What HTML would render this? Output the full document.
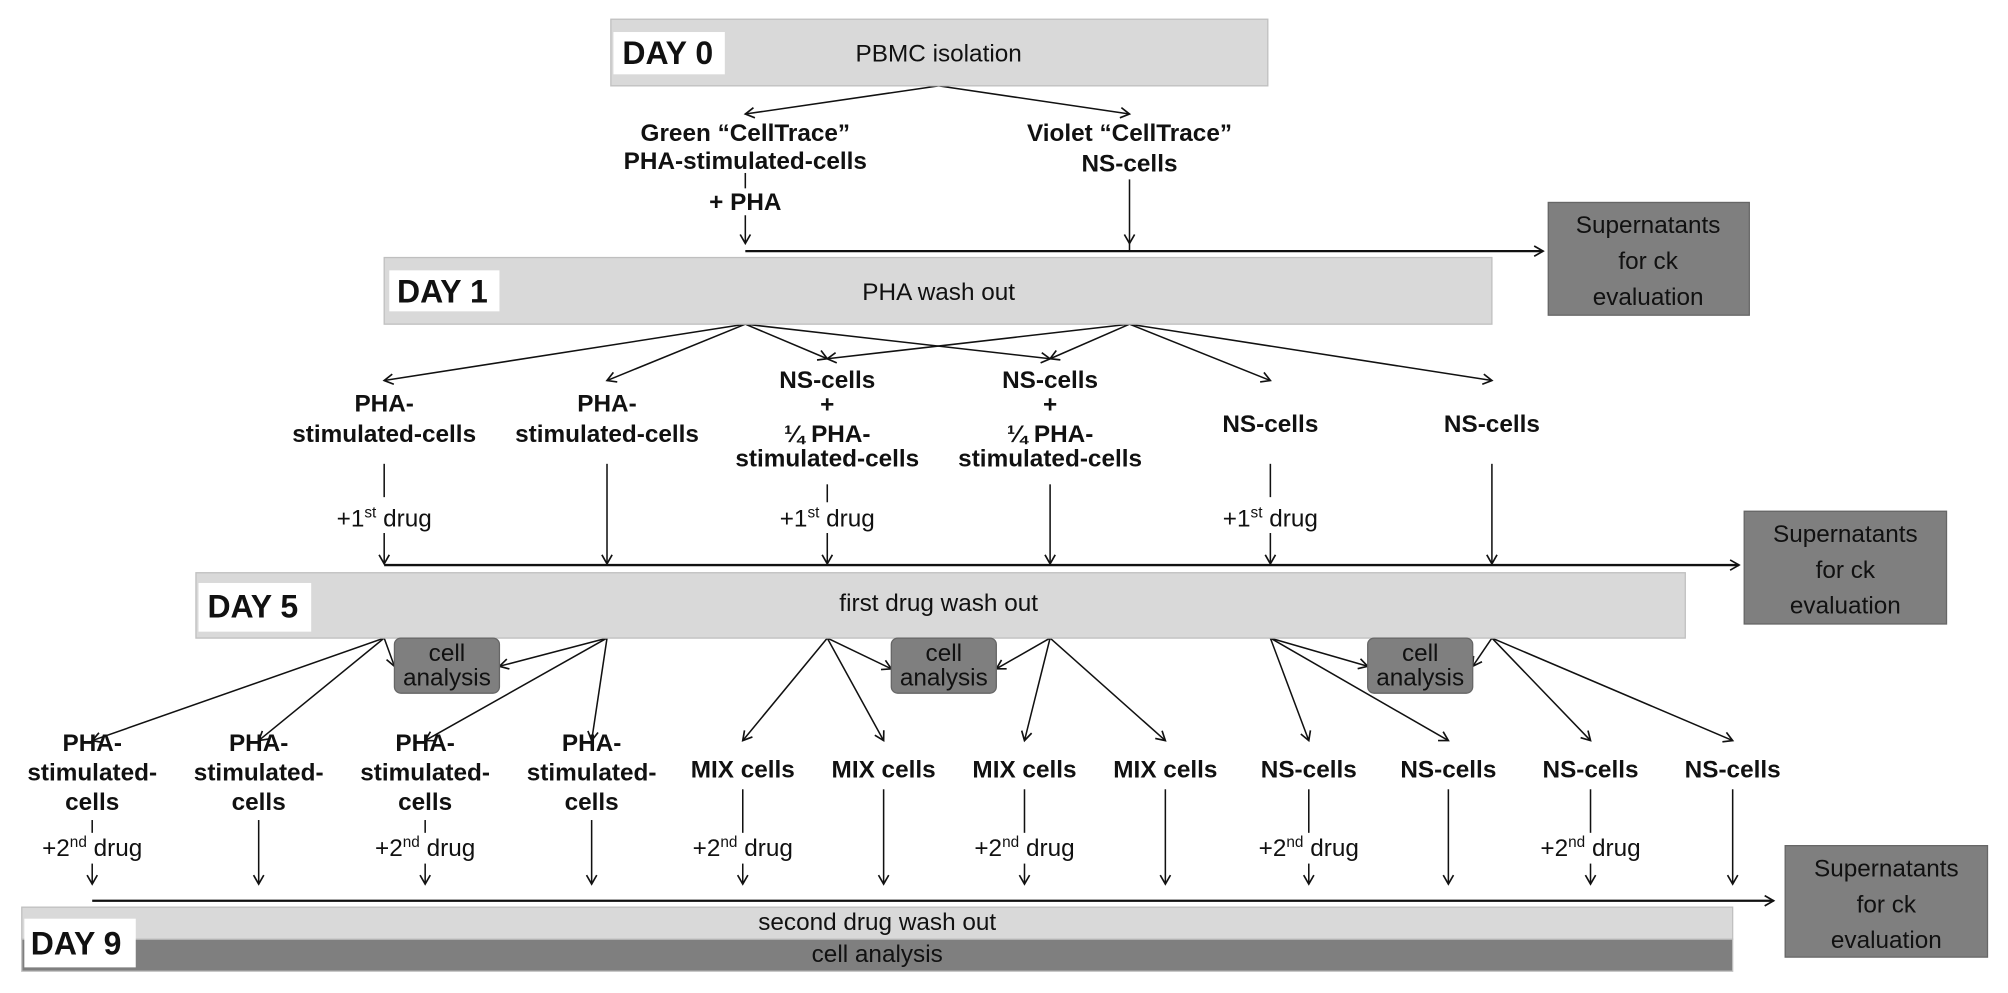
<!DOCTYPE html>
<html><head><meta charset="utf-8"><style>
html,body{margin:0;padding:0;background:#fff;}
svg{display:block;}
text{font-family:"Liberation Sans Narrow","Liberation Sans",sans-serif;fill:#111;}
.b{font-weight:bold;font-size:19px;}
.n{font-size:19px;}
.d{font-weight:bold;font-size:25px;}
.s{font-size:19px;fill:#111;}
</style></head><body>
<svg width="2008" height="993" viewBox="0 0 1568 775" preserveAspectRatio="none" xmlns="http://www.w3.org/2000/svg">
<defs>
<marker id="a" markerUnits="userSpaceOnUse" markerWidth="12" markerHeight="12" refX="10" refY="6" orient="auto">
<path d="M3,2 L10,6 L3,10" fill="none" stroke="#111" stroke-width="1.3"/>
</marker>
</defs>
<g stroke="#111" stroke-width="1.2" fill="none">
<!-- Day 0 -->
<line x1="733" y1="67" x2="582" y2="89" marker-end="url(#a)"/>
<line x1="733" y1="67" x2="882" y2="89" marker-end="url(#a)"/>
<line x1="582" y1="135" x2="582" y2="147"/>
<line x1="582" y1="168" x2="582" y2="190" marker-end="url(#a)"/>
<line x1="882" y1="140" x2="882" y2="190" marker-end="url(#a)"/>
<line x1="582" y1="196" x2="1205" y2="196" stroke-width="1.8" marker-end="url(#a)"/>
<line x1="882" y1="190" x2="882" y2="196"/>
<!-- Day 1 -->
<line x1="582" y1="253" x2="300" y2="297" marker-end="url(#a)"/>
<line x1="582" y1="253" x2="474" y2="297" marker-end="url(#a)"/>
<line x1="582" y1="253" x2="646" y2="280" marker-end="url(#a)"/>
<line x1="582" y1="253" x2="820" y2="280" marker-end="url(#a)"/>
<line x1="882" y1="253" x2="646" y2="280" marker-end="url(#a)"/>
<line x1="882" y1="253" x2="820" y2="280" marker-end="url(#a)"/>
<line x1="882" y1="253" x2="992" y2="297" marker-end="url(#a)"/>
<line x1="882" y1="253" x2="1165" y2="297" marker-end="url(#a)"/>
<line x1="300" y1="362" x2="300" y2="388"/><line x1="300" y1="416" x2="300" y2="440" marker-end="url(#a)"/>
<line x1="474" y1="362" x2="474" y2="440" marker-end="url(#a)"/>
<line x1="646" y1="378" x2="646" y2="392"/><line x1="646" y1="416" x2="646" y2="440" marker-end="url(#a)"/>
<line x1="820" y1="378" x2="820" y2="440" marker-end="url(#a)"/>
<line x1="992" y1="362" x2="992" y2="388"/><line x1="992" y1="416" x2="992" y2="440" marker-end="url(#a)"/>
<line x1="1165" y1="362" x2="1165" y2="440" marker-end="url(#a)"/>
<line x1="300" y1="441" x2="1358" y2="441" stroke-width="1.8" marker-end="url(#a)"/>
<!-- Day 5 -->
<line x1="300" y1="498" x2="72" y2="578" marker-end="url(#a)"/>
<line x1="300" y1="498" x2="202" y2="578" marker-end="url(#a)"/>
<line x1="300" y1="498" x2="308" y2="520" marker-end="url(#a)"/>
<line x1="474" y1="498" x2="390" y2="520" marker-end="url(#a)"/>
<line x1="474" y1="498" x2="332" y2="578" marker-end="url(#a)"/>
<line x1="474" y1="498" x2="462" y2="578" marker-end="url(#a)"/>
<line x1="646" y1="498" x2="580" y2="578" marker-end="url(#a)"/>
<line x1="646" y1="498" x2="690" y2="578" marker-end="url(#a)"/>
<line x1="646" y1="498" x2="696" y2="522" marker-end="url(#a)"/>
<line x1="820" y1="498" x2="778" y2="522" marker-end="url(#a)"/>
<line x1="820" y1="498" x2="800" y2="578" marker-end="url(#a)"/>
<line x1="820" y1="498" x2="910" y2="578" marker-end="url(#a)"/>
<line x1="992" y1="498" x2="1068" y2="520" marker-end="url(#a)"/>
<line x1="992" y1="498" x2="1022" y2="578" marker-end="url(#a)"/>
<line x1="992" y1="498" x2="1131" y2="578" marker-end="url(#a)"/>
<line x1="1165" y1="498" x2="1150" y2="520" marker-end="url(#a)"/>
<line x1="1165" y1="498" x2="1242" y2="578" marker-end="url(#a)"/>
<line x1="1165" y1="498" x2="1353" y2="578" marker-end="url(#a)"/>
<!-- verticals day 5 -->
<line x1="72" y1="640" x2="72" y2="650"/><line x1="72" y1="674" x2="72" y2="690" marker-end="url(#a)"/>
<line x1="202" y1="640" x2="202" y2="690" marker-end="url(#a)"/>
<line x1="332" y1="640" x2="332" y2="650"/><line x1="332" y1="674" x2="332" y2="690" marker-end="url(#a)"/>
<line x1="462" y1="640" x2="462" y2="690" marker-end="url(#a)"/>
<line x1="580" y1="616" x2="580" y2="650"/><line x1="580" y1="674" x2="580" y2="690" marker-end="url(#a)"/>
<line x1="690" y1="616" x2="690" y2="690" marker-end="url(#a)"/>
<line x1="800" y1="616" x2="800" y2="650"/><line x1="800" y1="674" x2="800" y2="690" marker-end="url(#a)"/>
<line x1="910" y1="616" x2="910" y2="690" marker-end="url(#a)"/>
<line x1="1022" y1="616" x2="1022" y2="650"/><line x1="1022" y1="674" x2="1022" y2="690" marker-end="url(#a)"/>
<line x1="1131" y1="616" x2="1131" y2="690" marker-end="url(#a)"/>
<line x1="1242" y1="616" x2="1242" y2="650"/><line x1="1242" y1="674" x2="1242" y2="690" marker-end="url(#a)"/>
<line x1="1353" y1="616" x2="1353" y2="690" marker-end="url(#a)"/>
<line x1="72" y1="703" x2="1385" y2="703" stroke-width="1.8" marker-end="url(#a)"/>
</g>
<g stroke="#bfbfbf" stroke-width="1">
<rect x="477" y="15" width="513" height="52" fill="#d9d9d9"/>
<rect x="300" y="201" width="865" height="52" fill="#d9d9d9"/>
<rect x="153" y="447" width="1163" height="51" fill="#d9d9d9"/>
<rect x="17" y="708" width="1336" height="25" fill="#d9d9d9"/>
<rect x="17" y="733" width="1336" height="25" fill="#7f7f7f"/>
</g>
<g fill="#fff">
<rect x="479" y="25" width="87" height="33"/>
<rect x="304" y="211" width="86" height="32"/>
<rect x="155" y="455" width="88" height="38"/>
<rect x="19" y="717" width="87" height="38"/>
</g>
<g fill="#7f7f7f" stroke="#666">
<rect x="1209" y="158" width="157" height="88"/>
<rect x="1362" y="399" width="158" height="88"/>
<rect x="1394" y="660" width="158" height="87"/>
<rect x="308" y="498" width="82" height="43" rx="5"/>
<rect x="696" y="498" width="82" height="43" rx="5"/>
<rect x="1068" y="498" width="82" height="43" rx="5"/>
</g>
<g text-anchor="start">
<text class="d" x="486" y="50">DAY 0</text>
<text class="d" x="310" y="236">DAY 1</text>
<text class="d" x="162" y="482">DAY 5</text>
<text class="d" x="24" y="745">DAY 9</text>
</g>
<g text-anchor="middle">
<text class="n" x="733" y="48">PBMC isolation</text>
<text class="n" x="733" y="234">PHA wash out</text>
<text class="n" x="733" y="477">first drug wash out</text>
<text class="n" x="685" y="726">second drug wash out</text>
<text class="n" x="685" y="751">cell analysis</text>
<text class="b" x="582" y="110">Green “CellTrace”</text>
<text class="b" x="582" y="132">PHA-stimulated-cells</text>
<text class="b" x="882" y="110">Violet “CellTrace”</text>
<text class="b" x="882" y="134">NS-cells</text>
<text class="b" x="582" y="164">+ PHA</text>
<text class="b" x="300" y="321">PHA-</text><text class="b" x="300" y="345">stimulated-cells</text>
<text class="b" x="474" y="321">PHA-</text><text class="b" x="474" y="345">stimulated-cells</text>
<text class="b" x="646" y="303">NS-cells</text><text class="b" x="646" y="322">+</text><text class="b" x="646" y="345">¼ PHA-</text><text class="b" x="646" y="364">stimulated-cells</text>
<text class="b" x="820" y="303">NS-cells</text><text class="b" x="820" y="322">+</text><text class="b" x="820" y="345">¼ PHA-</text><text class="b" x="820" y="364">stimulated-cells</text>
<text class="b" x="992" y="337">NS-cells</text>
<text class="b" x="1165" y="337">NS-cells</text>
<text class="n" x="300" y="411">+1<tspan font-size="12" dy="-7">st</tspan><tspan dy="7"> drug</tspan></text>
<text class="n" x="646" y="411">+1<tspan font-size="12" dy="-7">st</tspan><tspan dy="7"> drug</tspan></text>
<text class="n" x="992" y="411">+1<tspan font-size="12" dy="-7">st</tspan><tspan dy="7"> drug</tspan></text>
<text class="s" x="1287" y="182">Supernatants</text><text class="s" x="1287" y="210">for ck</text><text class="s" x="1287" y="238">evaluation</text>
<text class="s" x="1441" y="423">Supernatants</text><text class="s" x="1441" y="451">for ck</text><text class="s" x="1441" y="479">evaluation</text>
<text class="s" x="1473" y="684">Supernatants</text><text class="s" x="1473" y="712">for ck</text><text class="s" x="1473" y="740">evaluation</text>
<text class="s" x="349" y="516">cell</text><text class="s" x="349" y="535">analysis</text>
<text class="s" x="737" y="516">cell</text><text class="s" x="737" y="535">analysis</text>
<text class="s" x="1109" y="516">cell</text><text class="s" x="1109" y="535">analysis</text>
<text class="b" x="72" y="586">PHA-</text><text class="b" x="72" y="609">stimulated-</text><text class="b" x="72" y="632">cells</text>
<text class="b" x="202" y="586">PHA-</text><text class="b" x="202" y="609">stimulated-</text><text class="b" x="202" y="632">cells</text>
<text class="b" x="332" y="586">PHA-</text><text class="b" x="332" y="609">stimulated-</text><text class="b" x="332" y="632">cells</text>
<text class="b" x="462" y="586">PHA-</text><text class="b" x="462" y="609">stimulated-</text><text class="b" x="462" y="632">cells</text>
<text class="b" x="580" y="607">MIX cells</text>
<text class="b" x="690" y="607">MIX cells</text>
<text class="b" x="800" y="607">MIX cells</text>
<text class="b" x="910" y="607">MIX cells</text>
<text class="b" x="1022" y="607">NS-cells</text>
<text class="b" x="1131" y="607">NS-cells</text>
<text class="b" x="1242" y="607">NS-cells</text>
<text class="b" x="1353" y="607">NS-cells</text>
<text class="n" x="72" y="668">+2<tspan font-size="12" dy="-7">nd</tspan><tspan dy="7"> drug</tspan></text>
<text class="n" x="332" y="668">+2<tspan font-size="12" dy="-7">nd</tspan><tspan dy="7"> drug</tspan></text>
<text class="n" x="580" y="668">+2<tspan font-size="12" dy="-7">nd</tspan><tspan dy="7"> drug</tspan></text>
<text class="n" x="800" y="668">+2<tspan font-size="12" dy="-7">nd</tspan><tspan dy="7"> drug</tspan></text>
<text class="n" x="1022" y="668">+2<tspan font-size="12" dy="-7">nd</tspan><tspan dy="7"> drug</tspan></text>
<text class="n" x="1242" y="668">+2<tspan font-size="12" dy="-7">nd</tspan><tspan dy="7"> drug</tspan></text>
</g>
</svg>
</body></html>
